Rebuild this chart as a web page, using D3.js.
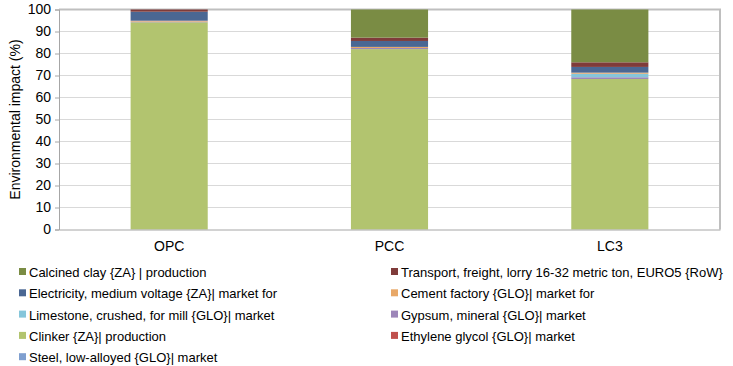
<!DOCTYPE html>
<html>
<head>
<meta charset="utf-8">
<script src="https://cdn.jsdelivr.net/npm/d3@7"></script>
<style>
  body { margin: 0; background: #fff; }
  svg { font-family: "Liberation Sans", Arial, sans-serif; }
</style>
</head>
<body>
<svg id="chart"></svg>
<script>
// categories along x
const categories = ["OPC", "PCC", "LC3"]

// series, bottom of the stack first
const seriesNames = [
    "Steel, low-alloyed {GLO}| market",
    "Ethylene glycol {GLO}| market",
    "Clinker {ZA}| production",
    "Gypsum, mineral {GLO}| market",
    "Limestone, crushed, for mill {GLO}| market",
    "Cement factory {GLO}| market for",
    "Electricity, medium voltage {ZA}| market for",
    "Transport, freight, lorry 16-32 metric ton, EURO5 {RoW}",
    "Calcined clay {ZA} | production"
]

// values (%) per series, in category order OPC, PCC, LC3
const steel      = [0.0, 0.0, 0.0]
const glycol     = [0.0, 0.0, 0.0]
const clinker    = [94.2, 82.0, 68.4]
const gypsum     = [0.3, 0.5, 0.8]
const limestone  = [0.0, 0.0, 1.6]
const cement     = [0.4, 0.5, 0.5]
const electricity = [4.1, 2.7, 2.6]
const transport  = [1.0, 1.5, 2.1]
const calcined   = [0.0, 12.8, 24.0]

const seriesValues = [steel, glycol, clinker, gypsum, limestone, cement, electricity, transport, calcined]

const seriesColors = ["#7f9fcf", "#c0504d", "#b2c46f", "#9d86b9", "#86c6da", "#e8a868", "#4a6793", "#7f3b3a", "#7a8c44"]

// legend order (row by row, two columns)
const legendOrder = [8, 7, 6, 5, 4, 3, 2, 1, 0]

const yTicks = [0, 10, 20, 30, 40, 50, 60, 70, 80, 90, 100]

const w = 733
const h = 366
const plotLeft = 59
const plotRight = 720
const plotTop = 9.5
const plotBottom = 229.5

const svg = d3.select("#chart")
    .attr("width", w)
    .attr("height", h)

// table for the stack
const table = categories.map((c, i) => {
    const row = { category: c }
    seriesNames.forEach((s, j) => row[s] = seriesValues[j][i])
    return row
})

const stacked = d3.stack().keys(seriesNames)(table)

const xScale = d3.scaleBand()
    .domain(categories)
    .range([plotLeft, plotRight])
    .paddingInner(0.65)
    .paddingOuter(0.325)

const yScale = d3.scaleLinear()
    .domain([0, 100])
    .range([plotBottom, plotTop])

// gridlines
svg.append("g")
    .selectAll("line")
    .data(yTicks.filter(d => d > 0))
    .enter()
    .append("line")
    .attr("x1", plotLeft)
    .attr("x2", plotRight)
    .attr("y1", d => yScale(d))
    .attr("y2", d => yScale(d))
    .attr("stroke", "#d9d9d9")
    .attr("stroke-width", 1)

// frame top and right
svg.append("path")
    .attr("d", `M${plotLeft},${plotTop} H${plotRight} V${plotBottom}`)
    .attr("fill", "none")
    .attr("stroke", "#bfbfbf")
    .attr("stroke-width", 2)

// bars
svg.append("g")
    .selectAll("g")
    .data(stacked)
    .enter()
    .append("g")
    .attr("fill", (d, i) => seriesColors[i])
    .selectAll("rect")
    .data(d => d)
    .enter()
    .append("rect")
    .attr("x", d => xScale(d.data.category))
    .attr("width", xScale.bandwidth())
    .attr("y", d => yScale(d[1]))
    .attr("height", d => yScale(d[0]) - yScale(d[1]))

// y axis
const leftAxis = d3.axisLeft(yScale)
    .tickValues(yTicks)
    .tickSize(4)
    .tickPadding(4)

const yAxis = svg.append("g")
    .attr("transform", `translate(${plotLeft}, 0)`)
    .call(leftAxis)

yAxis.select(".domain").attr("stroke", "#a6a6a6")
yAxis.selectAll(".tick line").attr("stroke", "#a6a6a6")
yAxis.selectAll(".tick text")
    .attr("font-size", 14)
    .attr("fill", "#000")
    .attr("font-family", "Liberation Sans, Arial, sans-serif")

// x axis
const bottomAxis = d3.axisBottom(xScale)
    .tickSize(0)
    .tickPadding(12)

const xAxis = svg.append("g")
    .attr("transform", `translate(0, ${plotBottom})`)
    .call(bottomAxis)

xAxis.select(".domain").attr("stroke", "#a6a6a6")
xAxis.selectAll(".tick text")
    .attr("font-size", 14)
    .attr("fill", "#000")
    .attr("font-family", "Liberation Sans, Arial, sans-serif")

// y title
svg.append("text")
    .attr("transform", `translate(20, ${(plotTop + plotBottom) / 2}) rotate(-90)`)
    .attr("text-anchor", "middle")
    .attr("font-size", 14)
    .text("Environmental impact (%)")

// legend
const legend = svg.append("g")
const colX = [19, 391]
const rowY0 = 272
const rowStep = 21.3

legendOrder.forEach((si, k) => {
    const col = k % 2
    const row = Math.floor(k / 2)
    const g = legend.append("g")
        .attr("transform", `translate(${colX[col]}, ${rowY0 + row * rowStep})`)
    g.append("rect")
        .attr("x", 0)
        .attr("y", -4)
        .attr("width", 7)
        .attr("height", 7)
        .attr("fill", seriesColors[si])
    g.append("text")
        .attr("x", 10)
        .attr("y", 5)
        .attr("font-size", 13)
        .text(seriesNames[si])
})
</script>
</body>
</html>
